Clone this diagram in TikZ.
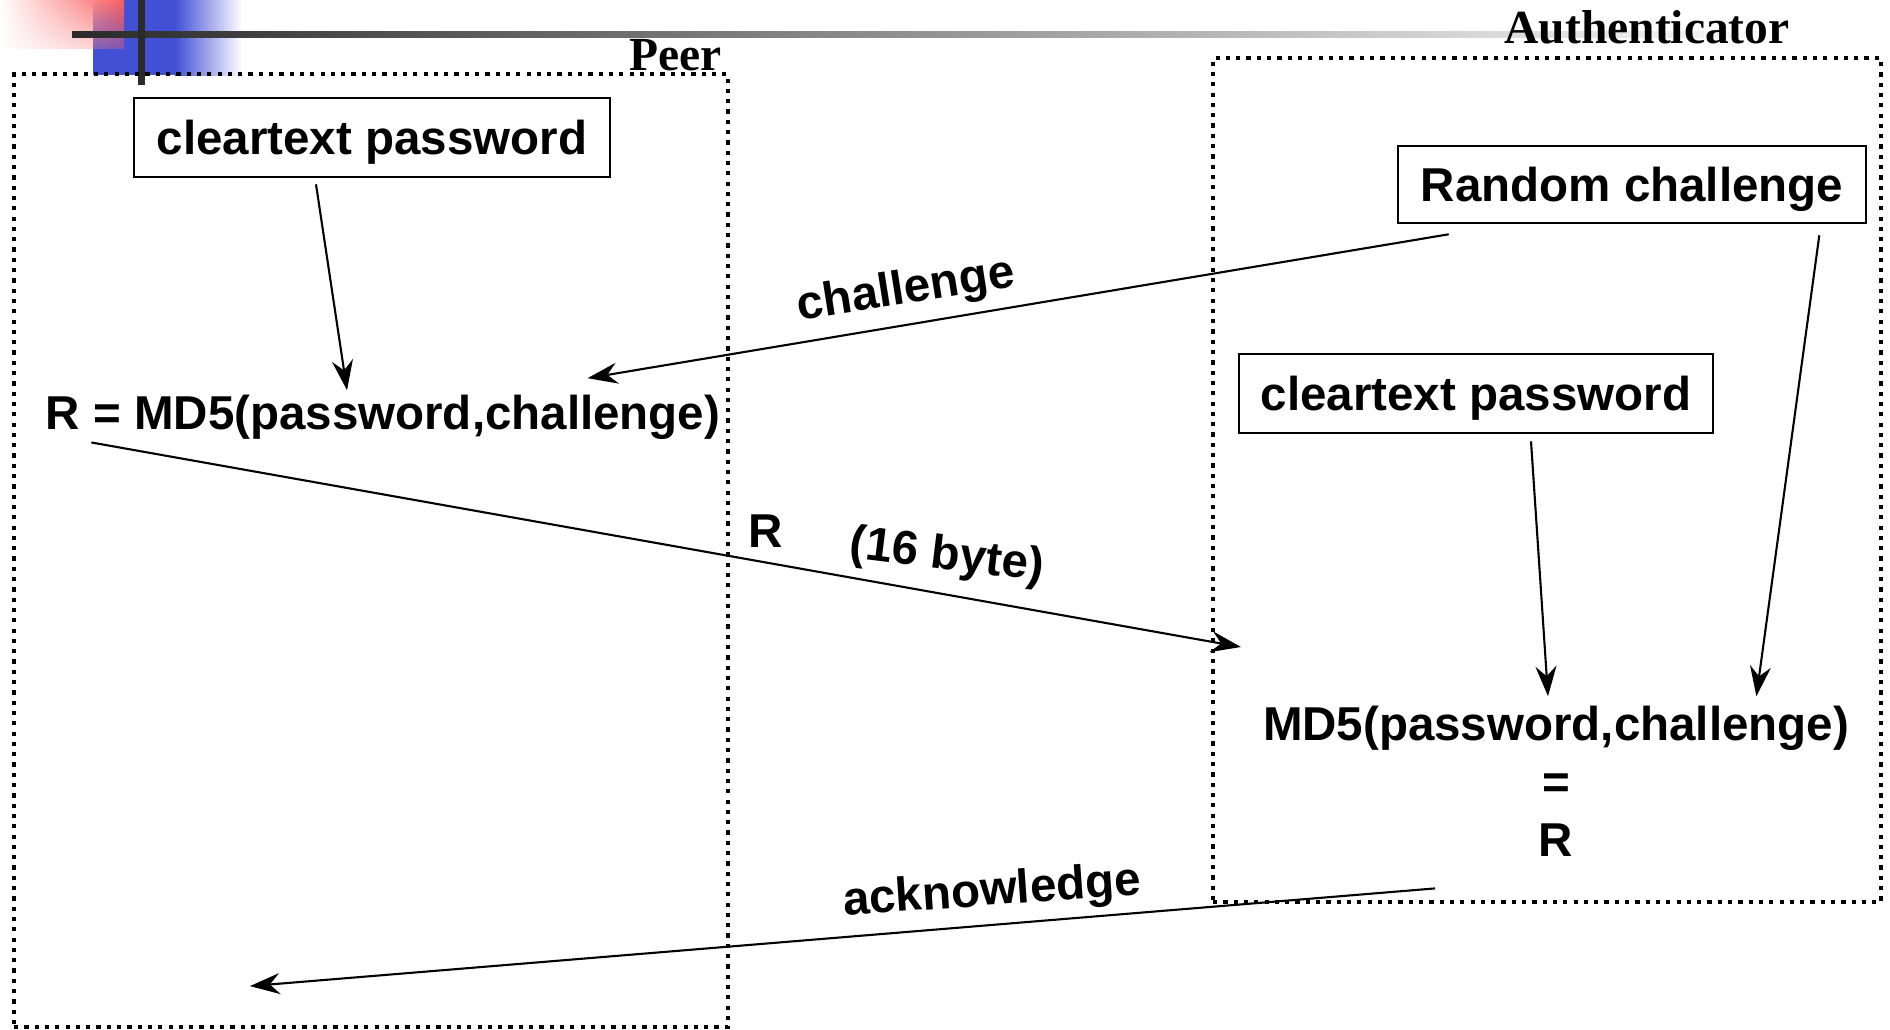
\documentclass[tikz,border=0pt]{standalone}
\usepackage{fontspec}
\setmainfont{Liberation Sans}
\newfontfamily\serifbold{Liberation Serif}
\usetikzlibrary{arrows.meta,fadings}

\definecolor{hdrred}{RGB}{250,95,95}
\definecolor{hdrblue}{RGB}{66,80,214}
\definecolor{hdrdark}{RGB}{42,42,42}
\tikzfading[name=fadedown, top color=transparent!0, bottom color=transparent!65]

\begin{document}
\begin{tikzpicture}[x=0.5pt,y=-0.5pt,
  lbl/.style={font=\fontsize{23.75}{28}\selectfont\bfseries, inner sep=0pt},
  title/.style={font=\fontsize{23.75}{28}\selectfont\serifbold\bfseries, inner sep=0pt},
  valbox/.style={lbl, draw, line width=1.3pt, text depth=0pt},
  zone/.style={draw, line width=2.1pt, dash pattern=on 2.1pt off 3.05pt, inner sep=0pt},
  arr/.style={line width=1.05pt, -{Stealth[length=15pt,width=10.5pt,inset=5pt]}}
]
\useasboundingbox[fill=white] (0,0) rectangle (1890,1029);

% header ornament
\fill[hdrblue] (93,0) rectangle (175,75);
\shade[left color=hdrblue, right color=white] (175,0) rectangle (242,75);
\shade[left color=white, right color=hdrred, path fading=fadedown] (0,0) rectangle (124,48);
\shade[left color=hdrdark, right color=white] (72,31) rectangle (1800,37);
\fill[hdrdark] (138,0) rectangle (145,85);

% the two parties
\node[zone, minimum width=357pt, minimum height=476.5pt] (peer) at (371,550.5) {};
\node[zone, minimum width=334pt, minimum height=422pt] (auth) at (1547,480) {};
\node[title, anchor=base east] (peert) at (722,70) {Peer};
\node[title, anchor=base east] (autht) at (1790,43) {Authenticator};

% values
\node[valbox, minimum width=238pt, minimum height=39.5pt] (pc) at (372,137.5) {cleartext password};
\node[valbox, minimum width=234pt, minimum height=38.5pt] (rc) at (1632,184.5) {Random challenge};
\node[valbox, minimum width=237pt, minimum height=39.5pt] (ac) at (1476,393.5) {cleartext password};
\node[lbl, anchor=base] (rmd) at (383,429) {R = MD5(password,challenge)};
\node[lbl, anchor=base] (amd) at (1556,740) {MD5(password,challenge)};
\node[lbl, anchor=base] (aeq) at (1556,798) {=};
\node[lbl, anchor=base] (ar) at (1556,856) {R};

% message labels
\node[lbl, rotate=9] (lch) at (906,291) {challenge};
\node[lbl] (lr) at (766,531) {R};
\node[lbl, rotate=-7] (lbyte) at (947,557) {(16 byte)};
\node[lbl, rotate=4] (lack) at (992,893) {acknowledge};

% flows
\draw[arr] ([shift={(-56,6)}]pc.south) -- ([shift={(-36,-4)}]rmd.north);
\draw[arr] ([shift={(52,10)}]rc.south west) -- ([shift={(-133,-16)}]rmd.north east);
\draw[arr] ([shift={(46,3)}]rmd.south west) -- ([shift={(30,167)}]auth.west);
\draw[arr] ([shift={(-48,11)}]rc.south east) -- ([shift={(-93,-9)}]amd.north east);
\draw[arr] ([shift={(55,7)}]ac.south) -- ([shift={(-8,-9)}]amd.north);
\draw[arr] ([shift={(-121,32)}]ar.south) -- ([shift={(238,-43)}]peer.south west);
\end{tikzpicture}
\end{document}
